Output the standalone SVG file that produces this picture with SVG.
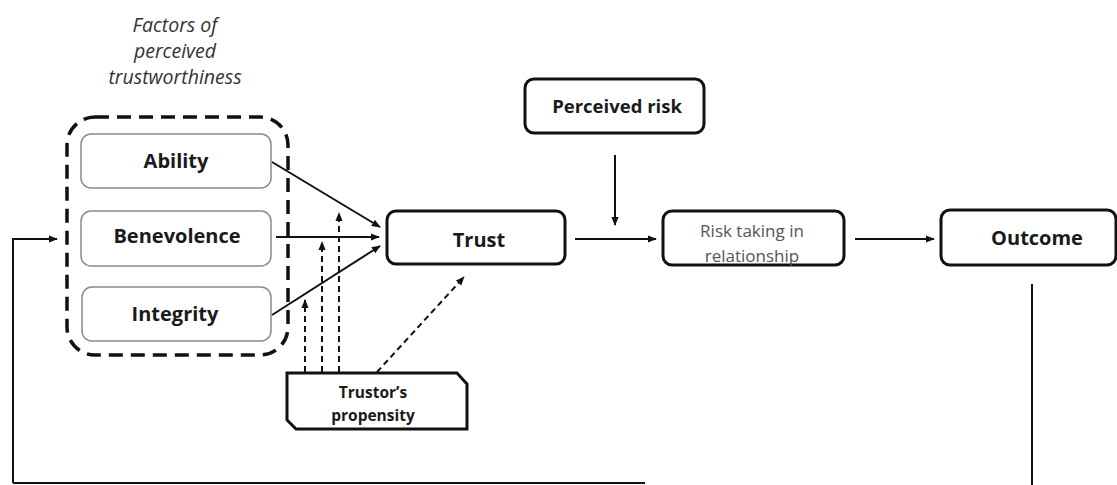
<svg xmlns="http://www.w3.org/2000/svg" width="1117" height="485" viewBox="0 0 1117 485">
<style>
  .main { fill: #fff; stroke: #111; stroke-width: 3; }
  .factor { fill: #fff; stroke: #8a8a8a; stroke-width: 1.5; }
  .lbl { font-family: "Open Sans", "Liberation Sans", sans-serif; font-weight: 700; fill: #1a1a1a; text-anchor: middle; }
  .thin { font-family: "Open Sans", "Liberation Sans", sans-serif; font-weight: 400; fill: #555; text-anchor: middle; font-size: 17px; }
  .title { font-family: "Open Sans", "Liberation Sans", sans-serif; font-style: italic; fill: #333; text-anchor: middle; font-size: 19.5px; }
  .arr { fill: none; stroke: #111; stroke-width: 2; }
  .dash { fill: none; stroke: #111; stroke-width: 2; stroke-dasharray: 6 4; }
</style>
<defs>
  <marker id="ah" viewBox="0 0 10 10" refX="9" refY="5" markerWidth="9" markerHeight="9" markerUnits="userSpaceOnUse" orient="auto">
    <path d="M0,1 L10,5 L0,9 z" fill="#111"/>
  </marker>
</defs>

<g id="title">
  <text class="title" x="175" y="32">Factors of</text>
  <text class="title" x="175" y="58">perceived</text>
  <text class="title" x="175" y="84">trustworthiness</text>
</g>

<g id="factors-group">
  <rect x="67" y="117" width="221" height="238" rx="28" fill="none" stroke="#111" stroke-width="3.5" stroke-dasharray="14 8"/>
</g>

<g id="ability">
  <rect class="factor" x="81" y="134" width="190" height="54" rx="10"/>
  <text class="lbl" x="176" y="168" font-size="20">Ability</text>
</g>
<g id="benevolence">
  <rect class="factor" x="81" y="211" width="190" height="55" rx="10"/>
  <text class="lbl" x="177" y="243" font-size="20">Benevolence</text>
</g>
<g id="integrity">
  <rect class="factor" x="82" y="287" width="189" height="54" rx="10"/>
  <text class="lbl" x="175" y="321" font-size="20">Integrity</text>
</g>

<g id="trust">
  <rect class="main" x="387" y="211" width="178" height="53" rx="9"/>
  <text class="lbl" x="479" y="247" font-size="20">Trust</text>
</g>

<g id="perceived-risk">
  <rect class="main" x="525" y="79" width="179" height="54" rx="9"/>
  <text class="lbl" x="617" y="113" font-size="18.5">Perceived risk</text>
</g>

<g id="risk-taking">
  <rect class="main" x="663" y="211" width="181" height="54" rx="9"/>
  <text class="thin" x="752" y="237">Risk taking in</text>
  <text class="thin" x="752" y="262">relationship</text>
</g>

<g id="outcome">
  <rect class="main" x="941" y="210" width="175" height="55" rx="9"/>
  <text class="lbl" x="1037" y="245" font-size="20">Outcome</text>
</g>

<g id="trustors-propensity">
  <path class="main" d="M287,373 L457,373 L467,384 L467,429 L296,429 L287,420 Z"/>
  <text class="lbl" x="373" y="398" font-size="15.5" font-weight="600">Trustor’s</text>
  <text class="lbl" x="373" y="421" font-size="15.5" font-weight="600">propensity</text>
</g>

<g id="connectors">
  <line class="arr" x1="272" y1="162" x2="380" y2="227" marker-end="url(#ah)"/>
  <line class="arr" x1="276" y1="237" x2="379" y2="237" marker-end="url(#ah)"/>
  <line class="arr" x1="272" y1="315" x2="380" y2="246" marker-end="url(#ah)"/>
  <line class="dash" x1="305" y1="372" x2="305" y2="300" marker-end="url(#ah)"/>
  <line class="dash" x1="322" y1="372" x2="322" y2="242" marker-end="url(#ah)"/>
  <line class="dash" x1="339" y1="372" x2="339" y2="213" marker-end="url(#ah)"/>
  <line class="dash" x1="377" y1="372" x2="464" y2="277" marker-end="url(#ah)"/>
  <line class="arr" x1="615" y1="155" x2="615" y2="225" marker-end="url(#ah)"/>
  <line class="arr" x1="575" y1="239" x2="656" y2="239" marker-end="url(#ah)"/>
  <line class="arr" x1="855" y1="239" x2="934" y2="239" marker-end="url(#ah)"/>
  <line class="arr" x1="1032" y1="284" x2="1032" y2="485"/>
  <line class="arr" x1="645" y1="483" x2="13" y2="483"/>
  <polyline class="arr" points="13,483 13,239 57,239" marker-end="url(#ah)"/>
</g>
</svg>
